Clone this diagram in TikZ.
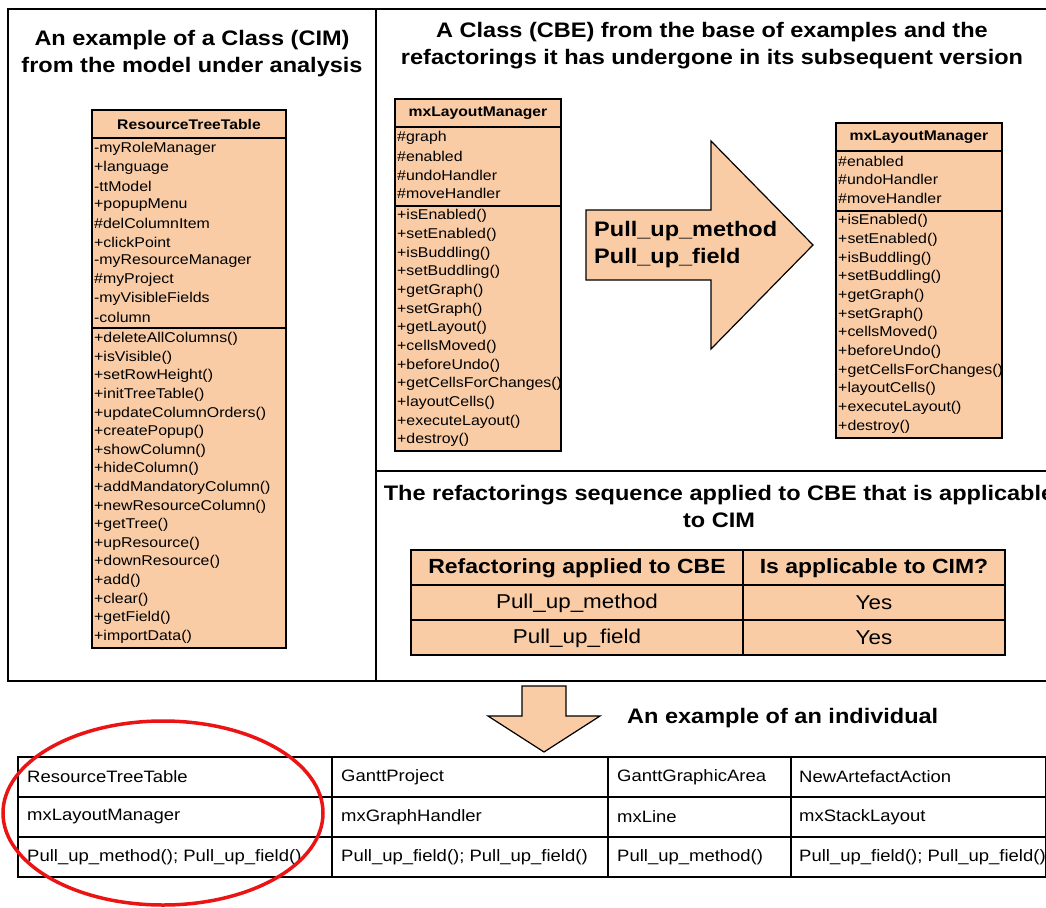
\documentclass[tikz,border=0pt]{standalone}
\usepackage{fontspec}
\setmainfont{Liberation Sans}[FakeStretch=1.12]
\definecolor{peach}{RGB}{249,204,166}
\definecolor{ringred}{RGB}{235,20,20}

\tikzstyle{panel} = [draw=black, line width=1.4pt]
\tikzstyle{classbox} = [draw=black, fill=peach, line width=1.4pt]
\tikzstyle{bigarrow} = [draw=black, fill=peach, line width=1.2pt]
\tikzstyle{classname} = [inner sep=0pt, font=\fontsize{14}{16}\selectfont\bfseries]
\tikzstyle{member} = [anchor=west, inner sep=0pt, font=\fontsize{14.2}{16}\selectfont]
\tikzstyle{heading} = [align=center, inner sep=0pt, font=\fontsize{21}{27}\selectfont\bfseries]
\tikzstyle{tcell} = [inner sep=0pt, font=\fontsize{20}{22}\selectfont]
\tikzstyle{cell} = [anchor=west, inner sep=0pt, font=\fontsize{16.5}{18}\selectfont]

\begin{document}
\begin{tikzpicture}[x=1pt, y=-1pt]
\useasboundingbox (0,0) rectangle (1046,907);

\draw [panel] (8,9) rectangle (376,681);
\draw [panel] (376,9) -- (1046,9);
\draw [panel] (376,471) -- (1046,471);
\draw [panel] (376,681) -- (1046,681);

\node (cimtitle) [heading] at (192,54) {An example of a Class (CIM)\\from the model under analysis};
\node (cbetitle) [heading] at (712,46) {A Class (CBE) from the base of examples and the\\refactorings it has undergone in its subsequent version};
\node (seqtitle) [heading] at (719,506) {The refactorings sequence applied to CBE that is applicable\\to CIM};

% class from the model
\draw [classbox] (92,110) rectangle (286,648);
\draw [panel] (92,138) -- (286,138);
\draw [panel] (92,328) -- (286,328);
\node (rtt) [classname] at (189,124) {ResourceTreeTable};
\foreach \t [count=\i] in {-myRoleManager, +language, -ttModel, +popupMenu, \#delColumnItem, +clickPoint, -myResourceManager, \#myProject, -myVisibleFields, -column}
  \node (rtt-a\i) [member] at (94,{149+18.7*(\i-1)}) {\t};
\foreach \t [count=\i] in {+deleteAllColumns(), +isVisible(), +setRowHeight(), +initTreeTable(), +updateColumnOrders(), +createPopup(), +showColumn(), +hideColumn(), +addMandatoryColumn(), +newResourceColumn(), +getTree(), +upResource(), +downResource(), +add(), +clear(), +getField(), +importData()}
  \node (rtt-m\i) [member] at (94,{339+18.6*(\i-1)}) {\t};

% class from the base of examples
\draw [classbox] (395,99) rectangle (561,451);
\draw [panel] (395,127) -- (561,127);
\draw [panel] (395,206) -- (561,206);
\node (mxold) [classname] at (478,113) {mxLayoutManager};
\foreach \t [count=\i] in {\#graph, \#enabled, \#undoHandler, \#moveHandler}
  \node (mxold-a\i) [member] at (397,{138+18.5*(\i-1)}) {\t};
\foreach \t [count=\i] in {+isEnabled(), +setEnabled(), +isBuddling(), +setBuddling(), +getGraph(), +setGraph(), +getLayout(), +cellsMoved(), +beforeUndo(), +getCellsForChanges(), +layoutCells(), +executeLayout(), +destroy()}
  \node (mxold-m\i) [member] at (397,{216+18.67*(\i-1)}) {\t};

\draw [bigarrow] (586,210) -- (711,210) -- (711,141) -- (813,245) -- (711,349) -- (711,280) -- (586,280) -- cycle;
\node (pulls) [heading, align=left, anchor=west] at (594,245) {Pull\_up\_method\\Pull\_up\_field};

% class after refactoring
\draw [classbox] (836,123) rectangle (1002,438);
\draw [panel] (836,151) -- (1002,151);
\draw [panel] (836,211) -- (1002,211);
\node (mxnew) [classname] at (919,137) {mxLayoutManager};
\foreach \t [count=\i] in {\#enabled, \#undoHandler, \#moveHandler}
  \node (mxnew-a\i) [member] at (838,{161+18.5*(\i-1)}) {\t};
\foreach \t [count=\i] in {+isEnabled(), +setEnabled(), +isBuddling(), +setBuddling(), +getGraph(), +setGraph(), +cellsMoved(), +beforeUndo(), +getCellsForChanges(), +layoutCells(), +executeLayout(), +destroy()}
  \node (mxnew-m\i) [member] at (838,{221+18.7*(\i-1)}) {\t};

% refactorings table
\draw [classbox] (411,550) rectangle (1005,655);
\draw [panel] (411,585) -- (1005,585);
\draw [panel] (411,620) -- (1005,620);
\draw [panel] (743,550) -- (743,655);
\node (hrefac) [tcell, font=\fontsize{20.5}{22}\selectfont\bfseries] at (577,568) {Refactoring applied to CBE};
\node (happl) [tcell, font=\fontsize{20.5}{22}\selectfont\bfseries] at (874,568) {Is applicable to CIM?};
\node (r1) [tcell] at (577,603) {Pull\_up\_method};
\node (y1) [tcell] at (874,603) {Yes};
\node (r2) [tcell] at (577,638) {Pull\_up\_field};
\node (y2) [tcell] at (874,638) {Yes};

\draw [bigarrow] (522,686) -- (566,686) -- (566,716) -- (600,716) -- (544,752) -- (488,716) -- (522,716) -- cycle;
\node (indtitle) [heading, anchor=west] at (627,718) {An example of an individual};

% individuals
\draw [panel] (18,757) rectangle (1046,877);
\draw [panel] (18,797) -- (1046,797);
\draw [panel] (18,837) -- (1046,837);
\foreach \x in {332,608,791}
  \draw [panel] (\x,757) -- (\x,877);
\foreach \x/\a/\b/\c [count=\i] in {27/ResourceTreeTable/mxLayoutManager/{Pull\_up\_method(); Pull\_up\_field()}, 341/GanttProject/mxGraphHandler/{Pull\_up\_field(); Pull\_up\_field()}, 617/GanttGraphicArea/mxLine/{Pull\_up\_method()}, 799/NewArtefactAction/mxStackLayout/{Pull\_up\_field(); Pull\_up\_field()}}
{
  \node (cim\i) [cell] at (\x,777) {\a};
  \node (cbe\i) [cell] at (\x,817) {\b};
  \node (ref\i) [cell] at (\x,857) {\c};
}

\draw [ringred, line width=3.5pt] (163,813) ellipse [x radius=160, y radius=92];

\end{tikzpicture}
\end{document}
